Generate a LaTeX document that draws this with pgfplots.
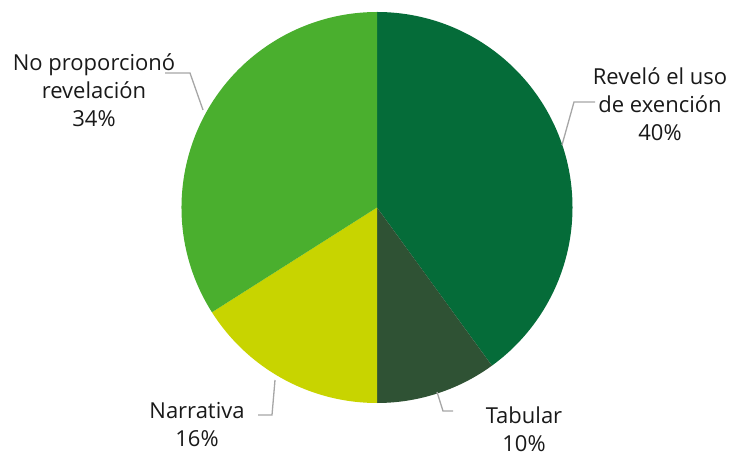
\documentclass[border=0pt]{standalone}
\usepackage{fontspec}
\setmainfont{Open Sans}
\usepackage{pgfplots}
\pgfplotsset{compat=1.18}

\definecolor{cRev}{HTML}{056C39}
\definecolor{cTab}{HTML}{2F5234}
\definecolor{cNar}{HTML}{C8D400}
\definecolor{cNo}{HTML}{4AAF2E}
\definecolor{cLead}{HTML}{A6A6A6}

\begin{document}
\begin{tikzpicture}
\begin{axis}[
  width=730bp, height=458bp, scale only axis,
  xmin=0, xmax=730, ymin=0, ymax=458,
  hide axis, clip=false,
]
  \coordinate (bl) at (axis cs:0,0);
  \coordinate (tr) at (axis cs:730,458);
  % slices: start % / end % / colour, clockwise from 12 o'clock
  \pgfplotsextra{
    \foreach \s/\e/\c in {0/40/cRev, 40/50/cTab, 50/66/cNar, 66/100/cNo}{
      \pgfmathsetmacro\a{90-3.6*\s}
      \pgfmathsetmacro\b{90-3.6*\e}
      \fill[\c] (axis cs:377,250.5) -- ++(\a:195.5bp)
        arc[start angle=\a, end angle=\b, radius=195.5bp] -- cycle;
    }
    % leader lines
    \draw[cLead, line width=1.3bp] (axis cs:203,348) -- (axis cs:190,385) -- (axis cs:165,385);
    \draw[cLead, line width=1.3bp] (axis cs:562,313) -- (axis cs:574,356) -- (axis cs:595,356);
    \draw[cLead, line width=1.3bp] (axis cs:275,78) -- (axis cs:272,43) -- (axis cs:258,43);
    \draw[cLead, line width=1.3bp] (axis cs:437,66) -- (axis cs:443,47) -- (axis cs:453,47);
  }
  \tikzset{lab/.style={align=center, font=\fontsize{22bp}{28bp}\selectfont, inner sep=0pt, text=black!90}}
  \node[lab] at (axis cs:94,368) {No proporcionó\\revelación\\34\%};
  \node[lab] at (axis cs:660,354) {Reveló el uso\\de exención\\40\%};
  \node[lab] at (axis cs:197,33.5) {Narrativa\\16\%};
  \node[lab] at (axis cs:524,29) {Tabular\\10\%};
\end{axis}
\pgfresetboundingbox
\useasboundingbox (bl) rectangle (tr);
\end{tikzpicture}
\end{document}
